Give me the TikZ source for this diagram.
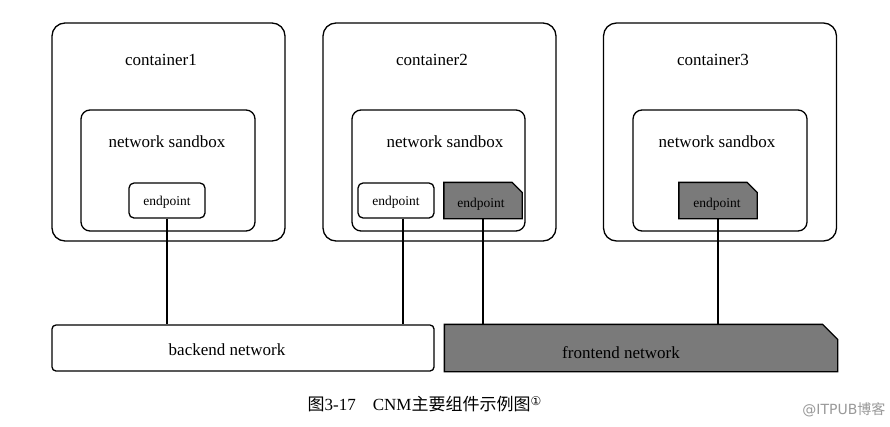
\documentclass[tikz,border=0pt]{standalone}
\usepackage{fontspec}
\setmainfont{Liberation Serif}
\newfontfamily\cjk{Noto Sans CJK SC}
\newfontfamily\dejavu{DejaVu Sans}
\begin{document}
\begin{tikzpicture}[x=1pt,y=-1pt,
  line width=1.3pt,
  container/.style={draw,rounded corners=13pt,minimum width=233pt,minimum height=218pt,inner sep=0pt},
  sandbox/.style={draw,rounded corners=9pt,minimum height=121pt,inner sep=0pt},
  epwhite/.style={draw,rounded corners=5pt,minimum width=76pt,minimum height=35pt,inner sep=0pt},
  epbox/.style={minimum width=77pt,minimum height=35pt,inner sep=0pt},
  darkfill/.style={draw,fill=black!52,line width=1.3pt},
  eptext/.style={inner sep=0pt,font=\fontsize{13.5}{15}\selectfont},
  label/.style={font=\fontsize{17}{20}\selectfont,inner sep=0pt},
  link/.style={line width=1.5pt}
]
\useasboundingbox (0,0) rectangle (890,426);
\fill[white] (0,0) rectangle (890,426);

% containers
\node[container] (c1) at (168.5,132) {};
\node[container] (c2) at (439.5,132) {};
\node[container] (c3) at (720,132) {};
\node[label] (t1) at (161,60) {container1};
\node[label] (t2) at (432,60) {container2};
\node[label] (t3) at (713,60) {container3};

% sandboxes
\node[sandbox,minimum width=174pt] (s1) at (168,170.5) {};
\node[sandbox,minimum width=173pt] (s2) at (438.5,170.5) {};
\node[sandbox,minimum width=174pt] (s3) at (720,170.5) {};
\node[label] (st1) at (167,142) {network sandbox};
\node[label] (st2) at (445,142) {network sandbox};
\node[label] (st3) at (717,142) {network sandbox};

% endpoints
\node[epwhite] (e1) at (167,200.5) {};
\node[epwhite] (e2) at (396,200.5) {};
\node[epbox] (e3) at (483,200.5) {};
\node[epbox] (e4) at (718,200.5) {};
\path[darkfill] (e3.south west) -- (e3.north west) -- ([xshift=-10pt]e3.north east) -- ([yshift=-10pt]e3.north east) -- (e3.south east) -- cycle;
\path[darkfill] (e4.south west) -- (e4.north west) -- ([xshift=-10pt]e4.north east) -- ([yshift=-10pt]e4.north east) -- (e4.south east) -- cycle;
\node[eptext] (et1) at (167,202) {endpoint};
\node[eptext] (et2) at (396,202) {endpoint};
\node[eptext] (et3) at (481,204) {endpoint};
\node[eptext] (et4) at (717,204) {endpoint};

% networks
\node[draw,rounded corners=4pt,minimum width=382pt,minimum height=46pt,inner sep=0pt] (bn) at (243,348) {};
\node[minimum width=392pt,minimum height=46pt,inner sep=0pt] (fn) at (641,348) {};
\path[darkfill] (fn.south west) -- (fn.north west) -- ([xshift=-15pt]fn.north east) -- ([yshift=-15pt]fn.north east) -- (fn.south east) -- cycle;
\node[label] (bnt) at (227,350) {backend network};
\node[label] (fnt) at (621,353) {frontend network};

% links
\draw[link] (e1.south) -- (e1.south |- bn.north);
\draw[link] (e2.south -| 403,0) coordinate (a2) -- (a2 |- bn.north);
\draw[link] (e3.south) -- (e3.south |- fn.north);
\draw[link] (e4.south) -- (e4.south |- fn.north);

% caption
\node[font=\fontsize{17}{20}\selectfont,anchor=west,inner sep=0pt] (cap) at (307,404) {{\cjk 图}3-17\hspace{1em}CNM{\cjk 主要组件示例图}\raisebox{0.7ex}{\fontsize{12}{12}\selectfont\dejavu ①}};
\node[font=\fontsize{14}{16}\selectfont,text=black!40,anchor=east,inner sep=0pt] (wm) at (886,410) {\dejavu @ITPUB{\cjk 博客}};
\end{tikzpicture}
\end{document}
